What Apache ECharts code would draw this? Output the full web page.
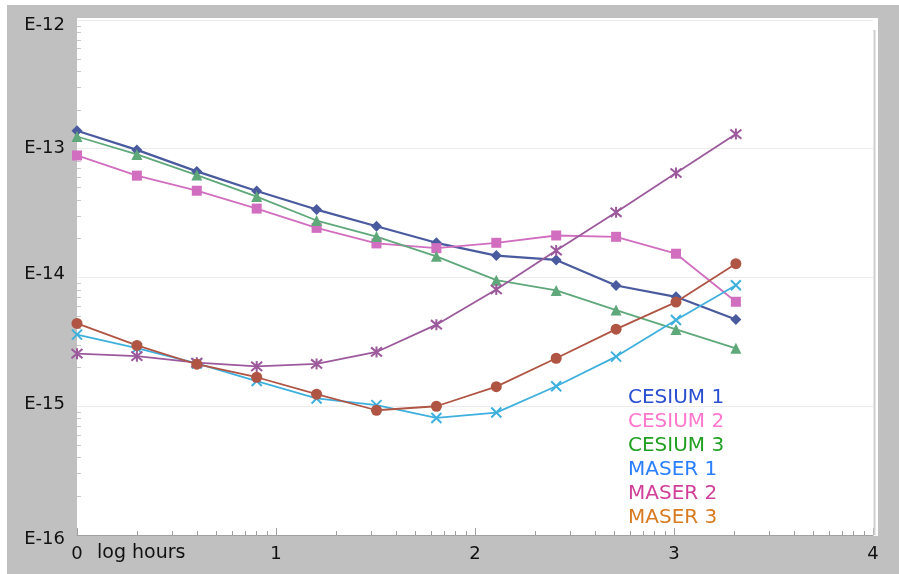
<!DOCTYPE html>
<html><head><meta charset="utf-8">
<script src="https://cdn.jsdelivr.net/npm/echarts@6/dist/echarts.min.js"></script>
<style>html,body{margin:0;padding:0;background:#fff}#c{width:899px;height:574px}</style>
</head><body><div id="c"></div>
<script>
// x: log10(hours)
const logHours = [0, 0.301, 0.602, 0.903, 1.204, 1.505, 1.806, 2.107, 2.408, 2.709, 3.010, 3.311];
const xTickLabels = ['0', '1', '2', '3', '4'];
const yTickLabels = ['E-16', 'E-15', 'E-14', 'E-13', 'E-12'];
const seriesNames = ['CESIUM 1', 'CESIUM 2', 'CESIUM 3', 'MASER 1', 'MASER 2', 'MASER 3'];
const cesium1 = [1.38e-13, 9.8e-14, 6.67e-14, 4.70e-14, 3.37e-14, 2.50e-14, 1.86e-14, 1.48e-14, 1.37e-14, 8.67e-15, 7.08e-15, 4.72e-15];
const cesium2 = [8.87e-14, 6.18e-14, 4.72e-14, 3.43e-14, 2.43e-14, 1.84e-14, 1.69e-14, 1.86e-14, 2.12e-14, 2.07e-14, 1.53e-14, 6.48e-15];
const cesium3 = [1.245e-13, 9.03e-14, 6.25e-14, 4.25e-14, 2.77e-14, 2.08e-14, 1.46e-14, 9.53e-15, 7.93e-15, 5.58e-15, 3.95e-15, 2.82e-15];
const maser1 = [3.60e-15, 2.83e-15, 2.15e-15, 1.57e-15, 1.15e-15, 1.02e-15, 8.11e-16, 8.93e-16, 1.43e-15, 2.43e-15, 4.67e-15, 8.71e-15];
const maser2 = [2.56e-15, 2.45e-15, 2.18e-15, 2.04e-15, 2.13e-15, 2.64e-15, 4.30e-15, 8.07e-15, 1.62e-14, 3.21e-14, 6.48e-14, 1.30e-13];
const maser3 = [4.40e-15, 2.97e-15, 2.12e-15, 1.68e-15, 1.24e-15, 9.31e-16, 1.00e-15, 1.42e-15, 2.36e-15, 3.97e-15, 6.44e-15, 1.28e-14];

const seriesData = [cesium1, cesium2, cesium3, maser1, maser2, maser3];
const lineColors = ['#4a5a9e', '#d26ec0', '#5fa87a', '#3fb0dd', '#9c5a9c', '#b05444'];
const legendColors = ['#2a4fd0', '#ff77cc', '#22a022', '#2a7fff', '#d0409a', '#d87a20'];
const symbols = ['diamond', 'rect', 'triangle',
  'path://M0,0L10,10M10,0L0,10',
  'path://M0,0L10,10M10,0L0,10M5,-1L5,11',
  'circle'];
const symbolSizes = [11, 10, 11, 10, 11, 11];
// per-label vertical nudges (px) to sit like the reference
const yLabelShift = { 'E-12': 5, 'E-13': 0, 'E-14': -3, 'E-15': -2, 'E-16': 4 };

const font = 'DejaVu Sans, Verdana, sans-serif';
const chart = echarts.init(document.getElementById('c'));

const series = seriesNames.map((name, i) => {
  const isPath = symbols[i].indexOf('path://') === 0;
  return {
    name: name,
    type: 'line',
    xAxisIndex: 0,
    data: logHours.map((x, k) => [x, seriesData[i][k]]),
    symbol: symbols[i],
    symbolSize: symbolSizes[i],
    showAllSymbol: true,
    z: 5,
    lineStyle: { color: lineColors[i], width: i === 0 ? 2.2 : 1.8 },
    itemStyle: isPath
      ? { color: 'rgba(0,0,0,0)', borderColor: lineColors[i], borderWidth: 2 }
      : { color: lineColors[i], borderWidth: 0 },
    emphasis: { disabled: true },
    animation: false
  };
});

const yRich = {};
Object.keys(yLabelShift).forEach((k, i) => {
  const s = yLabelShift[k];
  yRich['r' + i] = { fontSize: 18, color: '#111', fontFamily: font,
    padding: s >= 0 ? [2 * s, 0, 0, 0] : [0, 0, -2 * s, 0] };
});

chart.setOption({
  backgroundColor: '#c0c0c0',
  animation: false,
  graphic: [
    { type: 'rect', z: -10, shape: { x: 0, y: 0, width: 7, height: 574 }, style: { fill: '#fff' } },
    { type: 'rect', z: -10, shape: { x: 0, y: 0, width: 899, height: 5 }, style: { fill: '#fff' } },
    { type: 'rect', z: -10, shape: { x: 77, y: 18, width: 801, height: 518 }, style: { fill: '#fff' } },
    { type: 'line', z: 1, shape: { x1: 874.5, y1: 30, x2: 874.5, y2: 535 }, style: { stroke: '#cfcfcf', lineWidth: 2 } },
    { type: 'text', z: 10, left: 97, top: 544, style: { text: 'log hours', font: '19px ' + font, fill: '#111' } }
  ],
  legend: {
    orient: 'vertical',
    left: 623,
    top: 383,
    itemGap: 4,
    itemWidth: 0,
    itemHeight: 20,
    icon: 'none',
    selectedMode: false,
    data: seriesNames.map((n, i) => ({ name: n, textStyle: { color: legendColors[i] } })),
    textStyle: { fontSize: 20, fontFamily: font, padding: [0, 0, 0, -5] }
  },
  grid: { left: 77, right: 26, top: 20, bottom: 39, containLabel: false },
  xAxis: [
    {
      type: 'value', min: 0, max: 4, interval: 1, position: 'bottom',
      axisLine: { show: true, lineStyle: { color: '#a0a0a0', width: 1 } },
      axisTick: { show: true, inside: true, length: 7, lineStyle: { color: '#a0a0a0' } },
      axisLabel: { fontSize: 18, color: '#111', fontFamily: font, margin: 10,
        formatter: v => xTickLabels[Math.round(v)] },
      splitLine: { show: false }
    },
    {
      type: 'log', logBase: 10, min: 1, max: 10000, position: 'bottom',
      axisLine: { show: false },
      axisTick: { show: true, inside: true, length: 0.01, lineStyle: { color: 'rgba(0,0,0,0)' } },
      axisLabel: { show: false },
      minorTick: { show: true, splitNumber: 9, length: 4, lineStyle: { color: '#a0a0a0' } },
      splitLine: { show: false }
    }
  ],
  yAxis: {
    type: 'log', logBase: 10, min: 1e-16, max: 1e-12,
    axisLine: { show: false },
    axisTick: { show: true, inside: true, length: 0.01, lineStyle: { color: 'rgba(0,0,0,0)' } },
    minorTick: { show: true, splitNumber: 9, length: 4, lineStyle: { color: '#c8c8c8' } },
    axisLabel: { margin: 12, fontSize: 18, color: '#111', fontFamily: font, rich: yRich,
      formatter: v => {
        const lab = yTickLabels[Math.round(Math.log10(v)) + 16];
        const idx = Object.keys(yLabelShift).indexOf(lab);
        return '{r' + idx + '|' + lab + '}';
      } },
    splitLine: { show: true, lineStyle: { color: '#ececec', width: 1 } }
  },
  series: series
});
</script></body></html>
